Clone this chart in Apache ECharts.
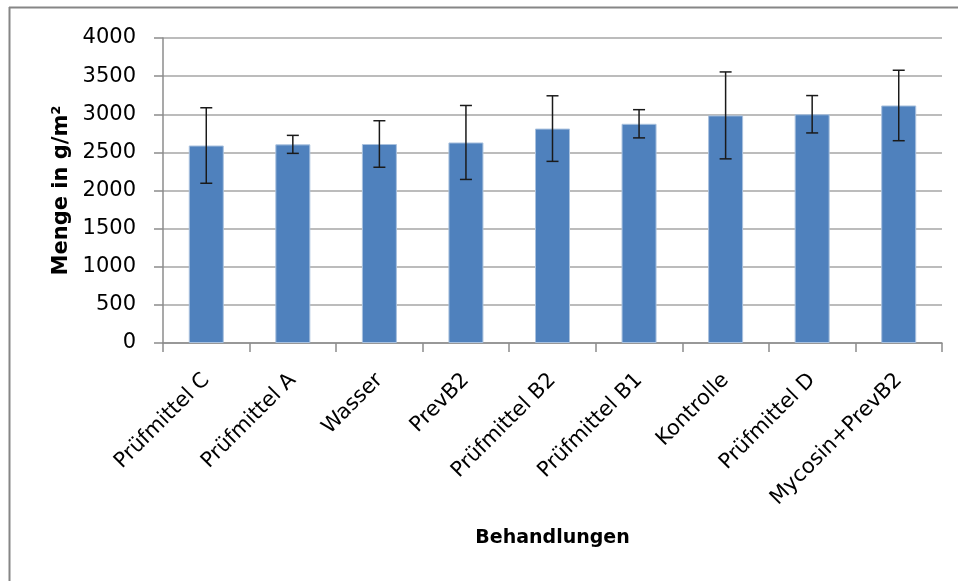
<!DOCTYPE html>
<html>
<head>
<meta charset="utf-8">
<script src="https://cdn.jsdelivr.net/npm/echarts@6/dist/echarts.min.js"></script>
<style>html,body{margin:0;padding:0;background:#fff}#c{width:958px;height:581px}</style>
</head>
<body>
<div id="c"></div>
<script>
const categories = ['Prüfmittel C','Prüfmittel A','Wasser','PrevB2','Prüfmittel B2','Prüfmittel B1','Kontrolle','Prüfmittel D','Mycosin+PrevB2'];
const means = [2590, 2605, 2610, 2630, 2812, 2875, 2985, 3000, 3115];
const errors = [495, 118, 305, 485, 430, 185, 570, 245, 462];
const yTicks = [0, 500, 1000, 1500, 2000, 2500, 3000, 3500, 4000];

const chart = echarts.init(document.getElementById('c'), null, {renderer: 'canvas'});
const font = 'DejaVu Sans';
chart.setOption({
  animation: false,
  backgroundColor: '#fff',
  graphic: [
    {type: 'line', shape: {x1: 9, y1: 7.5, x2: 958, y2: 7.5}, style: {stroke: '#868686', lineWidth: 2}},
    {type: 'line', shape: {x1: 9.5, y1: 7, x2: 9.5, y2: 581}, style: {stroke: '#868686', lineWidth: 2}}
  ],
  grid: {left: 163, right: 16, top: 38, bottom: 238, containLabel: false},
  xAxis: {
    type: 'category',
    data: categories,
    name: 'Behandlungen',
    nameLocation: 'middle',
    nameGap: 186,
    nameTextStyle: {fontFamily: font, fontSize: 19, fontWeight: 'bold', color: '#000'},
    axisLine: {lineStyle: {color: '#8c8c8c', width: 1.5}},
    axisTick: {show: true, length: 9, lineStyle: {color: '#8c8c8c', width: 1.5}},
    axisLabel: {rotate: 45, margin: 34, fontFamily: font, fontSize: 21, color: '#000', interval: 0}
  },
  yAxis: {
    type: 'value',
    min: 0, max: 4000, interval: 500,
    name: 'Menge in g/m²',
    nameLocation: 'middle',
    nameGap: 90,
    nameTextStyle: {fontFamily: font, fontSize: 21, fontWeight: 'bold', color: '#000'},
    axisLine: {show: true, lineStyle: {color: '#8c8c8c', width: 1.5}},
    axisTick: {show: true, length: 9, inside: false, lineStyle: {color: '#8c8c8c', width: 1.5}},
    splitLine: {lineStyle: {color: '#a6a6a6', width: 1.5}},
    axisLabel: {margin: 27, fontFamily: font, fontSize: 21, color: '#000',
      formatter: v => yTicks.includes(v) ? String(v) : ''}
  },
  series: [
    {
      type: 'bar',
      data: means,
      barWidth: 35,
      itemStyle: {color: '#4F81BD', borderColor: '#a9c1de', borderWidth: 1}
    },
    {
      type: 'custom',
      data: means.map((m, i) => [i, m - errors[i], m + errors[i]]),
      z: 5,
      renderItem: function (params, api) {
        const x = api.value(0);
        const lo = api.coord([x, api.value(1)]);
        const hi = api.coord([x, api.value(2)]);
        const half = 6;
        const st = {stroke: '#1a1a1a', lineWidth: 1.5};
        return {
          type: 'group',
          children: [
            {type: 'line', shape: {x1: hi[0], y1: hi[1], x2: lo[0], y2: lo[1]}, style: st},
            {type: 'line', shape: {x1: hi[0] - half, y1: hi[1], x2: hi[0] + half, y2: hi[1]}, style: st},
            {type: 'line', shape: {x1: lo[0] - half, y1: lo[1], x2: lo[0] + half, y2: lo[1]}, style: st}
          ]
        };
      }
    }
  ]
});
</script>
</body>
</html>
